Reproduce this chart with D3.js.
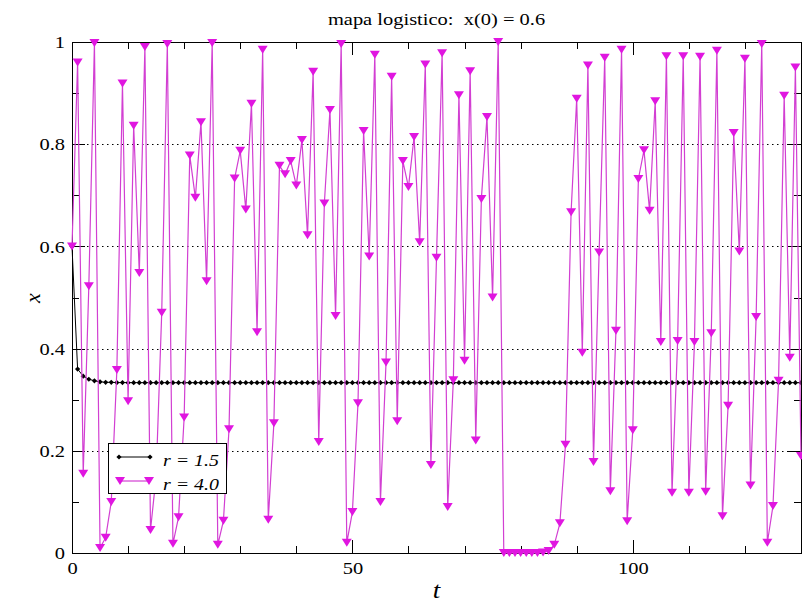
<!DOCTYPE html>
<html><head><meta charset="utf-8">
<script src="https://cdn.jsdelivr.net/npm/d3@7"></script>
<style>
body{margin:0;background:#fff;}
svg{display:block;}
</style></head>
<body><svg id="c" width="802" height="605"></svg>
<script>
// ---------- data ----------
const title = "mapa logistico:  x(0) = 0.6";
const seriesNames = ["r = 1.5", "r = 4.0"];
const xTicksMajor = [0, 50, 100];
const yTickLabels = ["0", "0.2", "0.4", "0.6", "0.8", "1"];
const yTicksMajor = [0, 0.2, 0.4, 0.6, 0.8, 1];

const r15 = [0.6,0.36,0.346,0.34,0.337,0.335,0.334,0.334,0.3335,0.3335,
0.3334,0.3334,0.3334,0.3333,0.3333,0.3333,0.3333,0.3333,0.3333,0.3333,
0.3333,0.3333,0.3333,0.3333,0.3333,0.3333,0.3333,0.3333,0.3333,0.3333,
0.3333,0.3333,0.3333,0.3333,0.3333,0.3333,0.3333,0.3333,0.3333,0.3333,
0.3333,0.3333,0.3333,0.3333,0.3333,0.3333,0.3333,0.3333,0.3333,0.3333,
0.3333,0.3333,0.3333,0.3333,0.3333,0.3333,0.3333,0.3333,0.3333,0.3333,
0.3333,0.3333,0.3333,0.3333,0.3333,0.3333,0.3333,0.3333,0.3333,0.3333,
0.3333,0.3333,0.3333,0.3333,0.3333,0.3333,0.3333,0.3333,0.3333,0.3333,
0.3333,0.3333,0.3333,0.3333,0.3333,0.3333,0.3333,0.3333,0.3333,0.3333,
0.3333,0.3333,0.3333,0.3333,0.3333,0.3333,0.3333,0.3333,0.3333,0.3333,
0.3333,0.3333,0.3333,0.3333,0.3333,0.3333,0.3333,0.3333,0.3333,0.3333,
0.3333,0.3333,0.3333,0.3333,0.3333,0.3333,0.3333,0.3333,0.3333,0.3333,
0.3333,0.3333,0.3333,0.3333,0.3333,0.3333,0.3333,0.3333,0.3333,0.3333,
0.3333];

const r40 = [0.6,0.96,0.155,0.522,0.998,0.01,0.03,0.1,0.358,0.919,
0.297,0.836,0.548,0.99,0.045,0.15,0.47,0.996,0.018,0.07,
0.265,0.778,0.695,0.843,0.532,0.998,0.016,0.063,0.242,0.733,
0.787,0.672,0.879,0.432,0.985,0.065,0.254,0.758,0.741,0.767,
0.719,0.808,0.622,0.942,0.217,0.684,0.867,0.464,0.996,0.02,
0.08,0.293,0.826,0.58,0.975,0.1,0.373,0.932,0.258,0.767,
0.716,0.814,0.608,0.956,0.172,0.578,0.978,0.09,0.338,0.896,
0.376,0.943,0.22,0.693,0.853,0.5,1.0,0.0,0.0,0.0,
0.0,0.0,0.0,0.0,0.001,0.004,0.016,0.058,0.212,0.667,
0.889,0.392,0.954,0.178,0.588,0.969,0.121,0.435,0.985,0.062,
0.24,0.732,0.788,0.67,0.884,0.413,0.972,0.118,0.415,0.972,
0.118,0.413,0.971,0.12,0.43,0.983,0.072,0.288,0.822,0.59,
0.967,0.132,0.462,0.996,0.02,0.092,0.337,0.895,0.382,0.95,
0.19];

// ---------- layout ----------
const L = 72, R = 801, T = 42, B = 553;
const SERIF = '"Liberation Serif","Times New Roman","DejaVu Serif",serif';
const SX = 1.17; // horizontal stretch of glyphs in the reference
const svg = d3.select("#c");
const x = d3.scaleLinear().domain([0, 130]).range([L, R]);
const y = d3.scaleLinear().domain([0, 1]).range([B, T]);
const MAG_LINE = "#d23fd2", MAG_FILL = "#e016e0";

function stretch(sel){
  sel.each(function(){
    const t = d3.select(this);
    const tx = +t.attr("x") || 0, ty = +t.attr("y") || 0;
    t.attr("x", 0).attr("y", 0).attr("transform", `translate(${tx},${ty}) scale(${SX},1)`);
  });
}

// gridlines (dotted)
svg.append("g").selectAll("line").data([0.2, 0.4, 0.6, 0.8]).join("line")
  .attr("x1", L).attr("x2", R)
  .attr("y1", d => Math.round(y(d)) + 0.5).attr("y2", d => Math.round(y(d)) + 0.5)
  .attr("stroke", "#000").attr("stroke-width", 1).attr("stroke-dasharray", "1.5,3.5");

// axes
const minorX = d3.range(0, 131, 10).filter(v => v % 50 !== 0);
const minorY = [0.1, 0.3, 0.5, 0.7, 0.9];

function styleAxis(g){ g.select(".domain").remove(); g.selectAll("line").attr("stroke","#000").attr("shape-rendering","crispEdges"); }
function styleLabels(g){ g.selectAll("text").attr("font-size", 17.5).style("font-family", SERIF).attr("fill","#000").call(stretch); }

svg.append("g").attr("transform", `translate(0,${B})`)
  .call(d3.axisBottom(x).tickValues(xTicksMajor).tickSize(-13).tickPadding(9).tickFormat(d3.format("d")))
  .call(styleAxis).call(styleLabels);
svg.append("g").attr("transform", `translate(0,${B})`)
  .call(d3.axisBottom(x).tickValues(minorX).tickSize(-7).tickFormat("")).call(styleAxis);
svg.append("g").attr("transform", `translate(0,${T})`)
  .call(d3.axisTop(x).tickValues(xTicksMajor).tickSize(-13).tickFormat("")).call(styleAxis);
svg.append("g").attr("transform", `translate(0,${T})`)
  .call(d3.axisTop(x).tickValues(minorX).tickSize(-7).tickFormat("")).call(styleAxis);

svg.append("g").attr("transform", `translate(${L},0)`)
  .call(d3.axisLeft(y).tickValues(yTicksMajor).tickSize(-13).tickPadding(7).tickFormat((d,i) => yTickLabels[i]))
  .call(styleAxis).call(styleLabels);
svg.append("g").attr("transform", `translate(${L},0)`)
  .call(d3.axisLeft(y).tickValues(minorY).tickSize(-7).tickFormat("")).call(styleAxis);
svg.append("g").attr("transform", `translate(${R},0)`)
  .call(d3.axisRight(y).tickValues(yTicksMajor).tickSize(-13).tickFormat("")).call(styleAxis);
svg.append("g").attr("transform", `translate(${R},0)`)
  .call(d3.axisRight(y).tickValues(minorY).tickSize(-7).tickFormat("")).call(styleAxis);

// frame
svg.append("rect").attr("x", L + 0.5).attr("y", T + 0.5).attr("width", R - L).attr("height", B - T)
  .attr("fill", "none").attr("stroke", "#000").attr("stroke-width", 1);

// series
const line = d3.line().x((d,i) => x(i)).y(d => y(d));
const diamond = "M0,-2.6L2.6,0L0,2.6L-2.6,0Z";
const tri = "M-5,-4L5,-4L0,4Z";

svg.append("path").datum(r15).attr("d", line).attr("fill","none").attr("stroke","#000").attr("stroke-width",1);
svg.append("g").selectAll("path").data(r15).join("path")
  .attr("transform", (d,i) => `translate(${x(i)},${y(d)})`).attr("d", diamond).attr("fill","#000");

svg.append("path").datum(r40).attr("d", line).attr("fill","none").attr("stroke",MAG_LINE).attr("stroke-width",1.2);
svg.append("g").selectAll("path").data(r40).join("path")
  .attr("transform", (d,i) => `translate(${x(i)},${y(d)})`).attr("d", tri).attr("fill",MAG_FILL);

// legend
const lg = svg.append("g");
lg.append("rect").attr("x", 108.5).attr("y", 443.5).attr("width", 118).attr("height", 50)
  .attr("fill", "#fff").attr("stroke", "#000").attr("stroke-width", 1);
lg.append("line").attr("x1",119).attr("x2",150).attr("y1",457).attr("y2",457).attr("stroke","#000").attr("stroke-width",1);
[119,150].forEach(px => lg.append("path").attr("transform",`translate(${px},457)`).attr("d",diamond).attr("fill","#000"));
lg.append("line").attr("x1",120).attr("x2",149).attr("y1",481).attr("y2",481).attr("stroke",MAG_LINE).attr("stroke-width",1.2);
[120,149].forEach(px => lg.append("path").attr("transform",`translate(${px},481)`).attr("d",tri).attr("fill",MAG_FILL));
lg.append("text").attr("x",163).attr("y",466).attr("font-size",17).attr("font-style","italic")
  .style("font-family", SERIF).text(seriesNames[0]).call(stretch);
lg.append("text").attr("x",163).attr("y",490).attr("font-size",17).attr("font-style","italic")
  .style("font-family", SERIF).text(seriesNames[1]).call(stretch);

// titles
svg.append("text").attr("x", (L + R) / 2).attr("y", 25).attr("text-anchor","middle")
  .attr("font-size", 17.5).style("font-family", SERIF).style("white-space","pre").text(title).call(stretch);
svg.append("text").attr("x", (L + R) / 2).attr("y", 598).attr("text-anchor","middle")
  .attr("font-size", 23).attr("font-style","italic").style("font-family", SERIF).text("t").call(stretch);
svg.append("text").attr("transform","translate(40,298) rotate(-90)").attr("text-anchor","middle")
  .attr("font-size", 22).attr("font-style","italic").style("font-family", SERIF).text("x");
</script></body></html>
